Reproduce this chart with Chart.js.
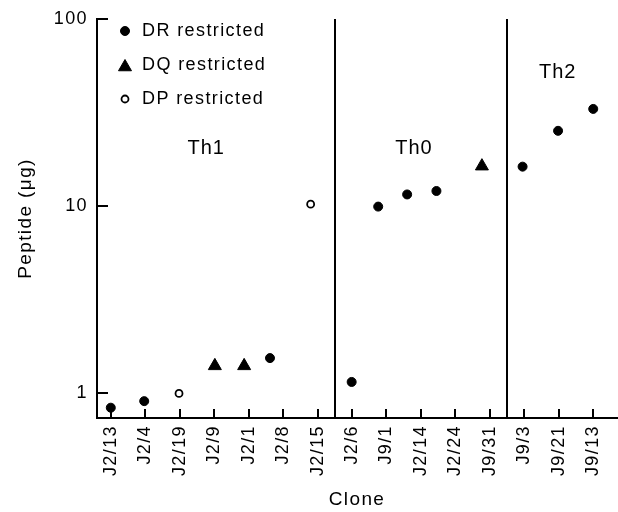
<!DOCTYPE html>
<html>
<head>
<meta charset="utf-8">
<script src="https://cdn.jsdelivr.net/npm/chart.js@4.4.1/dist/chart.umd.min.js"></script>
<style>
  html, body { margin: 0; padding: 0; background: #fff; }
</style>
</head>
<body>
<canvas id="cloneChart" width="618" height="512"></canvas>
<script>
// clones in the order they appear along the x axis
const clones = ['J2/13', 'J2/4', 'J2/19', 'J2/9', 'J2/1', 'J2/8', 'J2/15', 'J2/6', 'J9/1', 'J2/14', 'J2/24', 'J9/31', 'J9/3', 'J9/21', 'J9/13'];
// where each point sits along the clone axis (0 = first clone)
const cloneX = [0, 0.97, 1.98, 3.02, 3.87, 4.62, 5.8, 6.99, 7.76, 8.6, 9.45, 10.77, 11.95, 12.98, 14];
// peptide (ug)
const peptide = [0.83, 0.9, 0.99, 1.39, 1.39, 1.53, 10.2, 1.14, 9.9, 11.5, 12.0, 16.3, 16.2, 25.2, 33];
const restriction = ['DR', 'DR', 'DP', 'DQ', 'DQ', 'DR', 'DP', 'DR', 'DR', 'DR', 'DR', 'DQ', 'DR', 'DR', 'DR'];

const groups = ['Th1', 'Th0', 'Th2'];
const groupSize = [7, 5, 3];

const yTicks = [1, 10, 100];

const FONT = "'Liberation Sans', Arial, Helvetica, sans-serif";
Chart.defaults.font.family = FONT;
Chart.defaults.color = '#000';

function pointsFor(r) {
    const pts = [];
    clones.forEach((c, i) => {
        if (restriction[i] === r) pts.push({ x: cloneX[i], y: peptide[i] });
    });
    return pts;
}

// the three marker types
const markers = [
    { key: 'DR', label: 'DR restricted', pointStyle: 'circle', radius: 4.5, fill: '#000', borderWidth: 1 },
    { key: 'DQ', label: 'DQ restricted', pointStyle: 'triangle', radius: 7.5, fill: '#000', borderWidth: 1 },
    { key: 'DP', label: 'DP restricted', pointStyle: 'circle', radius: 3.5, fill: '#fff', borderWidth: 1.8 }
];

// group boundaries sit half way between the last clone of one group and the first of the next
const boundaries = [];
let acc = 0;
groupSize.forEach((n, i) => {
    acc += n;
    if (i < groupSize.length - 1) boundaries.push(acc - 0.5);
});

const figureMarks = {
    id: 'figureMarks',
    beforeDraw(chart) {
        chart.ctx.letterSpacing = '1.4px';
    },
    afterDraw(chart) {
        const ctx = chart.ctx;
        const { left, right, top, bottom } = chart.chartArea;
        const xs = chart.scales.x, ys = chart.scales.y;
        ctx.save();
        ctx.strokeStyle = '#000';
        ctx.fillStyle = '#000';
        ctx.lineWidth = 2;

        // inward tick marks
        ctx.beginPath();
        yTicks.forEach(v => {
            const y = Math.round(ys.getPixelForValue(v));
            ctx.moveTo(left, y);
            ctx.lineTo(left + 11, y);
        });
        clones.forEach((c, i) => {
            const x = Math.round(xs.getPixelForValue(i));
            ctx.moveTo(x, bottom);
            ctx.lineTo(x, bottom - 9);
        });
        ctx.stroke();

        // vertical lines between Th groups
        ctx.beginPath();
        boundaries.forEach(b => {
            const x = Math.round(xs.getPixelForValue(b));
            ctx.moveTo(x, top);
            ctx.lineTo(x, bottom);
        });
        ctx.stroke();

        // legend
        const legendX = left + 28;
        const rowY = [top + 12, top + 46, top + 80];
        markers.forEach((m, i) => {
            ctx.fillStyle = m.fill;
            ctx.strokeStyle = '#000';
            ctx.lineWidth = m.borderWidth;
            const dy = m.pointStyle === 'triangle' ? 2 : 0;
            Chart.helpers.drawPoint(ctx, { pointStyle: m.pointStyle, radius: m.radius, rotation: 0, borderWidth: m.borderWidth }, legendX, rowY[i] + dy);
            ctx.fillStyle = '#000';
            ctx.font = '18px ' + FONT;
            ctx.letterSpacing = '1.4px';
            ctx.textAlign = 'left';
            ctx.textBaseline = 'middle';
            ctx.fillText(m.label, left + 45, rowY[i]);
        });

        // group names
        ctx.font = '20px ' + FONT;
        ctx.letterSpacing = '1px';
        ctx.textAlign = 'center';
        ctx.textBaseline = 'middle';
        const nudgeX = [-8, -7, -1];
        const labelY = [top + 129, top + 129, top + 53];
        let start = 0;
        groups.forEach((g, i) => {
            const centre = start + (groupSize[i] - 1) / 2;
            ctx.fillText(g, xs.getPixelForValue(centre) + nudgeX[i], labelY[i]);
            start += groupSize[i];
        });
        ctx.restore();
    }
};

const ctx = document.getElementById('cloneChart').getContext('2d');
const cloneChart = new Chart(ctx, {
    type: 'scatter',
    data: {
        datasets: markers.map(m => ({
            label: m.label,
            data: pointsFor(m.key),
            pointStyle: m.pointStyle,
            pointRadius: m.radius,
            pointHoverRadius: m.radius,
            backgroundColor: m.fill,
            borderColor: '#000',
            borderWidth: m.borderWidth,
            showLine: false
        }))
    },
    options: {
        responsive: false,
        animation: false,
        layout: { autoPadding: false, padding: { top: 19, right: 1, left: 0, bottom: 0 } },
        plugins: {
            legend: { display: false },
            tooltip: { enabled: false }
        },
        scales: {
            x: {
                type: 'linear',
                bounds: 'data',
                min: -0.4,
                max: 14.69,
                afterBuildTicks: scale => {
                    scale.ticks = clones.map((c, i) => ({ value: i }));
                },
                afterFit: scale => {
                    scale.height = 94;
                    scale.paddingLeft = 0;
                    scale.paddingRight = 0;
                },
                ticks: {
                    autoSkip: false,
                    minRotation: 90,
                    maxRotation: 90,
                    padding: 7,
                    font: { size: 18 },
                    callback: v => clones[Math.round(v)]
                },
                grid: { display: false, drawTicks: false },
                border: { color: '#000', width: 2 },
                title: {
                    display: true,
                    text: 'Clone',
                    font: { size: 19 },
                    padding: { top: 0, bottom: 1 }
                }
            },
            y: {
                type: 'logarithmic',
                bounds: 'data',
                min: 0.731,
                max: 100,
                afterBuildTicks: scale => {
                    scale.ticks = yTicks.map(v => ({ value: v }));
                },
                afterFit: scale => {
                    scale.width = 97;
                    scale.paddingTop = 0;
                    scale.paddingBottom = 0;
                },
                ticks: {
                    padding: 9,
                    font: { size: 18 },
                    callback: v => String(v)
                },
                grid: { display: false, drawTicks: false },
                border: { color: '#000', width: 2 },
                title: {
                    display: true,
                    text: 'Peptide (μg)',
                    font: { size: 19 },
                    padding: { top: 14, bottom: 0 }
                }
            }
        }
    },
    plugins: [figureMarks]
});
</script>
</body>
</html>
